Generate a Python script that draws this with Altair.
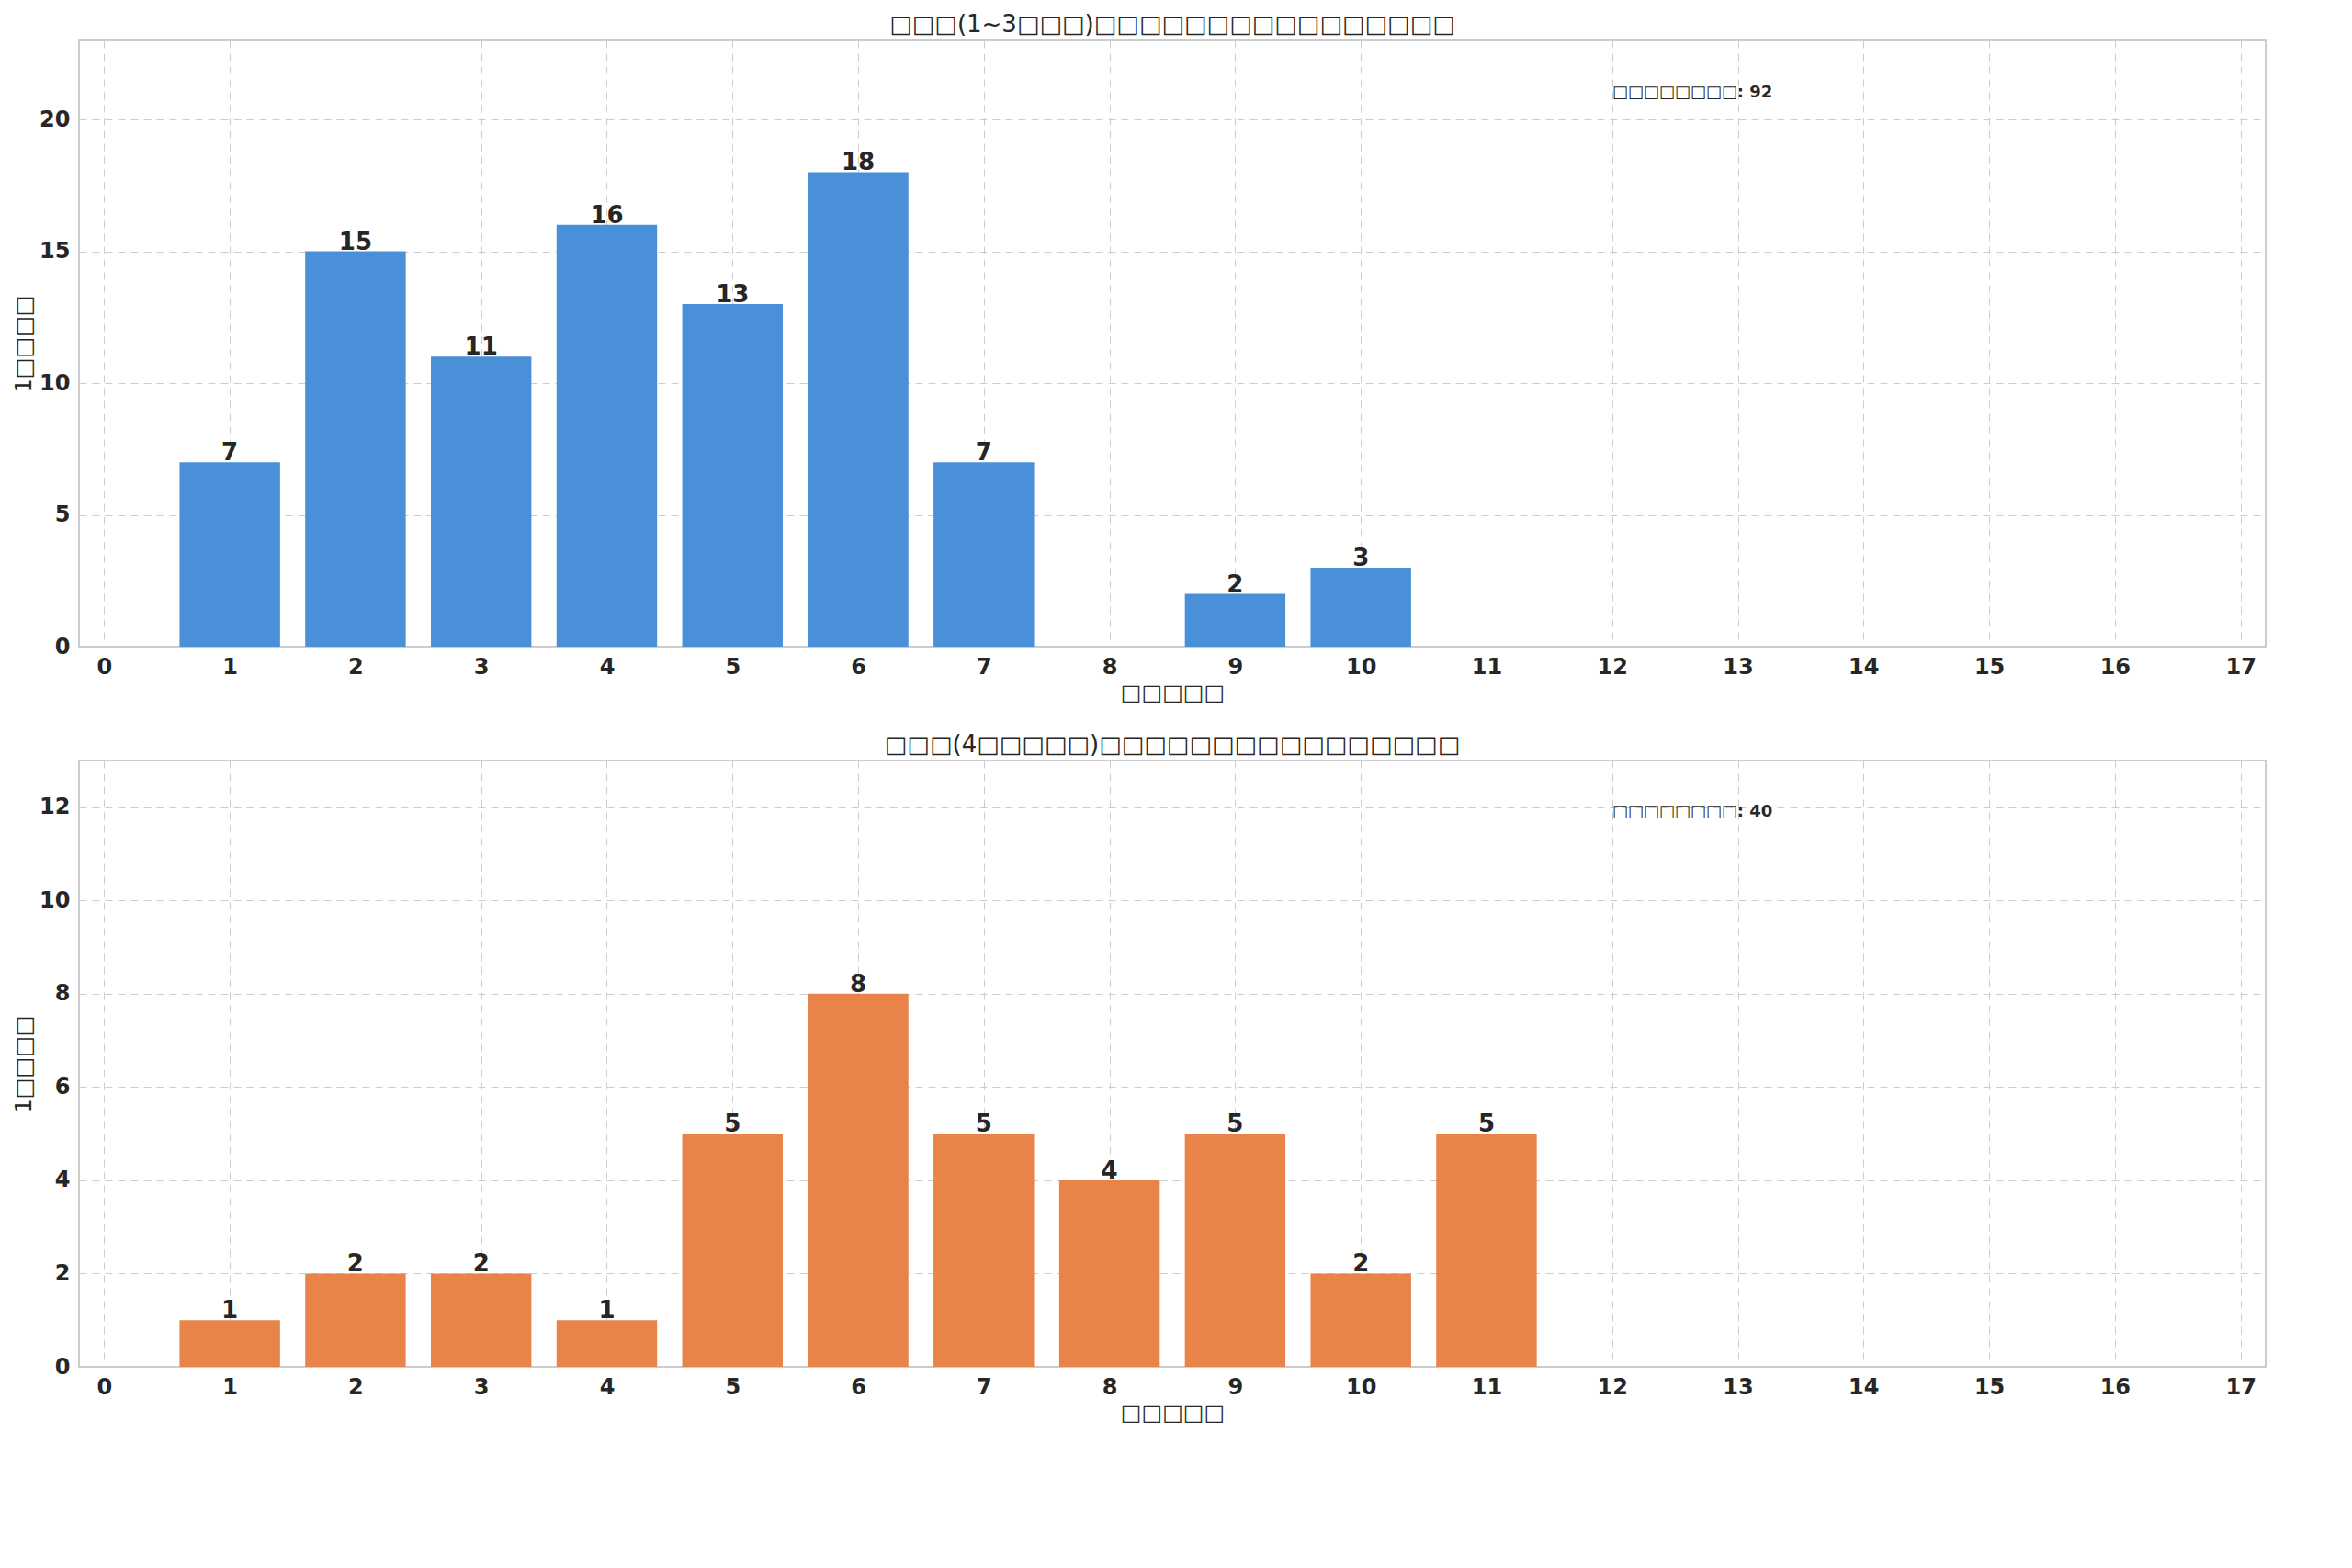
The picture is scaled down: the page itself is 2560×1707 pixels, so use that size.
import altair as alt
import pandas as pd

days = list(range(1, 18))
top_counts = [7, 15, 11, 16, 13, 18, 7, 0, 2, 3, 0, 0, 0, 0, 0, 0, 0]
bottom_counts = [1, 2, 2, 1, 5, 8, 5, 4, 5, 2, 5, 0, 0, 0, 0, 0, 0]
top_title = "□□□(1~3□□□)□□□□□□□□□□□□□□□□"
bottom_title = "□□□(4□□□□□)□□□□□□□□□□□□□□□□"
x_title = "□□□□□"
y_title = "1□□□□"
top_note = "□□□□□□□□: 92"
bottom_note = "□□□□□□□□: 40"

FONT = "DejaVu Sans"


def panel(counts, color, ymax, ystep, title, note, note_y):
    df = pd.DataFrame({"day": days, "count": counts})
    df = df[df["count"] > 0]
    base = alt.Chart(df).transform_calculate(
        x0="datum.day - 0.4", x1="datum.day + 0.4")
    xs = alt.Scale(domain=[-0.2, 17.2], nice=False, zero=False)
    ys = alt.Scale(domain=[0, ymax], nice=False)
    bars = base.mark_bar(color=color).encode(
        x=alt.X("x0:Q", scale=xs, title=x_title,
                axis=alt.Axis(values=list(range(0, 18)), format="d")),
        x2="x1:Q",
        y=alt.Y("count:Q", scale=ys, title=y_title,
                axis=alt.Axis(values=list(range(0, ymax, ystep)))),
        y2=alt.Y2(datum=0),
    )
    labels = base.mark_text(fontWeight="bold", fontSize=26, dy=-10,
                            color="#262626", font=FONT).encode(
        x=alt.X("day:Q", scale=xs), y=alt.Y("count:Q", scale=ys),
        text="count:Q")
    ann = alt.Chart(pd.DataFrame({"x": [12.0], "y": [note_y], "t": [note]})).mark_text(
        align="left", fontWeight="bold", fontSize=18, color="#262626", font=FONT
    ).encode(x=alt.X("x:Q", scale=xs), y=alt.Y("y:Q", scale=ys), text="t:N")
    return alt.layer(bars, labels, ann).properties(
        width=2380, height=660,
        title=alt.TitleParams(title, fontSize=26, fontWeight="normal", font=FONT,
                              color="#262626"))


chart = alt.vconcat(
    panel(top_counts, "#4a90d9", 23, 5, top_title, top_note, 21),
    panel(bottom_counts, "#e8834a", 13, 2, bottom_title, bottom_note, 11.9),
    spacing=30,
).configure_axis(
    labelFont=FONT, labelFontSize=24, labelFontWeight="bold", labelColor="#262626",
    titleFont=FONT, titleFontSize=24, titleFontWeight="normal", titleColor="#262626",
    gridDash=[8, 6], gridColor="#cccccc", domain=False, ticks=False, labelPadding=10,
).configure_view(stroke="#cccccc", strokeWidth=2)

chart.save("out.html", embed_options={"renderer": "svg", "actions": False})
